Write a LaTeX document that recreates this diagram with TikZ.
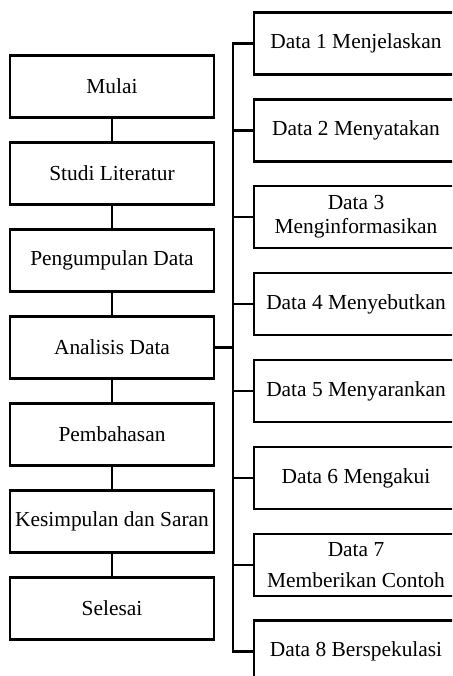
\documentclass[tikz,border=0pt]{standalone}
\usepackage{fontspec}
\setmainfont{Liberation Serif}
\tikzset{
  stage/.style={draw, line width=1.1pt, minimum width=102pt, minimum height=31pt,
    inner sep=1pt, align=center, font=\fontsize{10.7}{12}\selectfont},
  link/.style={line width=1.1pt}
}
\begin{document}
\begin{tikzpicture}[x=0.5pt, y=-0.5pt]
    \useasboundingbox (0,0) rectangle (452,676);
    \clip (0,0) rectangle (452,676);

    % alur penelitian
    \node [stage] (mulai) at (112,86.5) {Mulai};
    \node [stage] (studi) at (112,173.5) {Studi Literatur};
    \node [stage] (kumpul) at (112,260.5) {Pengumpulan Data};
    \node [stage] (analisis) at (112,347.5) {Analisis Data};
    \node [stage] (bahas) at (112,434.5) {Pembahasan};
    \node [stage] (simpul) at (112,521.5) {Kesimpulan dan Saran};
    \node [stage] (selesai) at (112,608.5) {Selesai};

    \draw [link] (mulai) -- (studi);
    \draw [link] (studi) -- (kumpul);
    \draw [link] (kumpul) -- (analisis);
    \draw [link] (analisis) -- (bahas);
    \draw [link] (bahas) -- (simpul);
    \draw [link] (simpul) -- (selesai);

    % data hasil analisis
    \node [stage] (d1) at (356,43.5) {Data 1 Menjelaskan};
    \node [stage] (d2) at (356,130.5) {Data 2 Menyatakan};
    \node [stage] (d3) at (356,217) {Data 3\\Menginformasikan};
    \node [stage] (d4) at (356,304) {Data 4 Menyebutkan};
    \node [stage] (d5) at (356,391) {Data 5 Menyarankan};
    \node [stage] (d6) at (356,478) {Data 6 Mengakui};
    \node [stage] (d7) at (356,565) {Data 7\\[3.5pt]Memberikan Contoh};
    \node [stage] (d8) at (356,651.5) {Data 8 Berspekulasi};

    \coordinate (bus) at (233,0);
    \draw [link] (analisis.east) -- (analisis.east -| bus);
    \draw [link] (d1.west) -- (d1.west -| bus) -- (d8.west -| bus) -- (d8.west);
    \foreach \k in {2,...,7}
      \draw [link] (d\k.west -| bus) -- (d\k.west);
\end{tikzpicture}
\end{document}
